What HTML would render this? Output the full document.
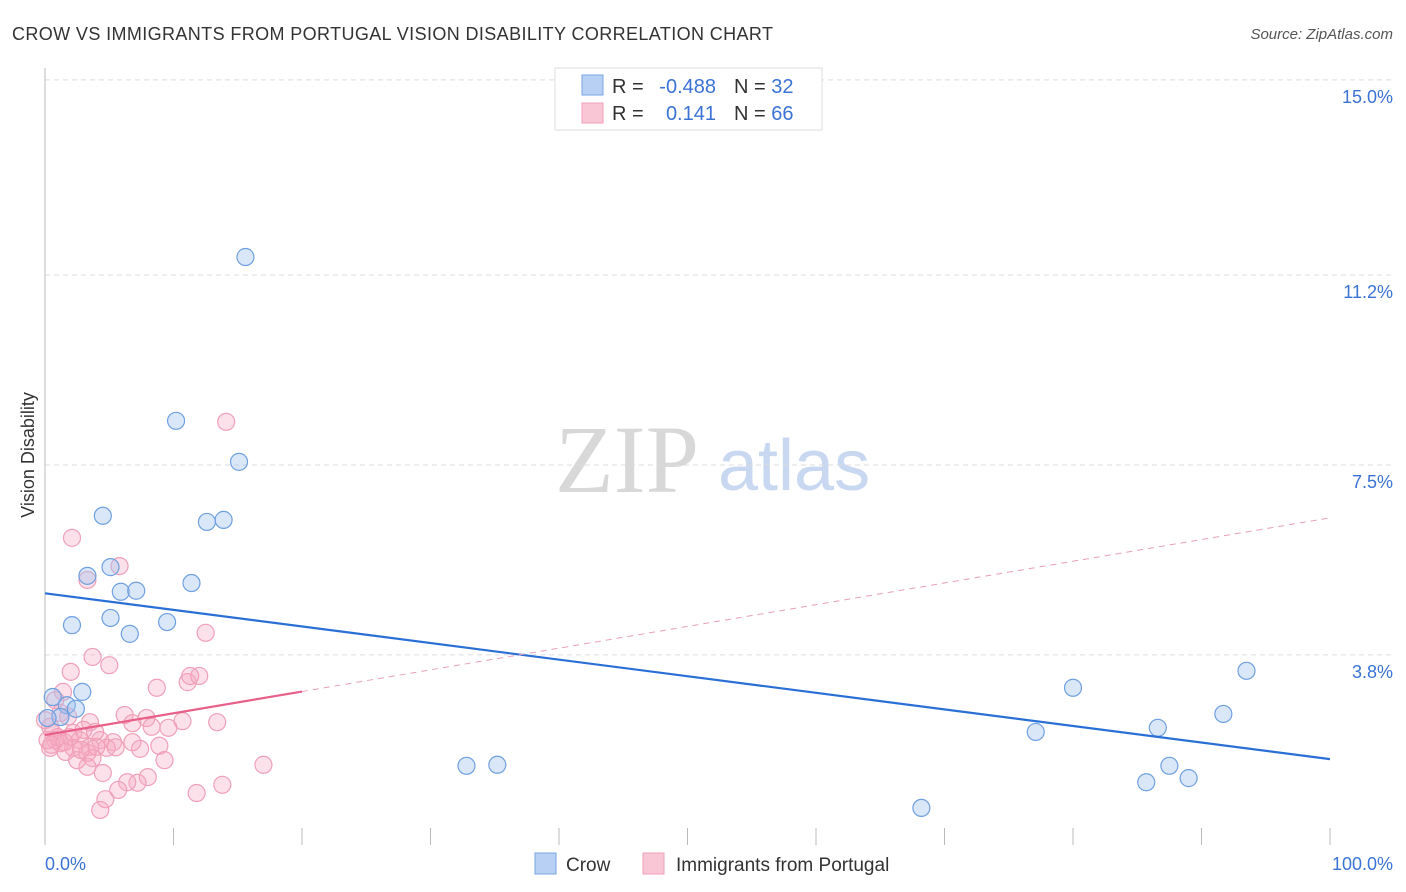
<!DOCTYPE html>
<html><head><meta charset="utf-8"><style>
body{margin:0;background:#fff;font-family:"Liberation Sans",sans-serif;}
svg{display:block}
</style></head><body>
<svg id="chart" width="1406" height="892">
<text x="12" y="40" font-size="18" fill="#333" textLength="761">CROW VS IMMIGRANTS FROM PORTUGAL VISION DISABILITY CORRELATION CHART</text>
<text x="1393" y="39" font-size="15" fill="#555" font-style="italic" text-anchor="end">Source: ZipAtlas.com</text>
<text transform="translate(34,455) rotate(-90)" font-size="18" fill="#333" text-anchor="middle">Vision Disability</text>
<g>
<text x="555" y="492" font-family="Liberation Serif,serif" font-size="96" fill="#d8d8d8">ZIP</text>
<text x="718" y="490" font-size="72" fill="#c8d8f0">atlas</text>
</g>
<g id="grid"></g>
<line x1="45" y1="68" x2="45" y2="845" stroke="#bbb"/>
<g id="xticks"></g>
<g id="marks"></g>
<g id="lines"></g>
<text x="45" y="870" font-size="18" fill="#3b73d4">0.0%</text>
<text x="1393" y="870" font-size="18" fill="#3b73d4" text-anchor="end">100.0%</text>
<g>
<rect x="555" y="68" width="267" height="62" fill="#fff" stroke="#ddd"/>
<rect x="582" y="75" width="21" height="20" fill="#b8d0f4" stroke="#7aa6e4"/>
<rect x="582" y="103" width="21" height="20" fill="#f9c6d6" stroke="#f0a0b8"/>
<text x="612" y="93" font-size="20" fill="#333">R = </text>
<text x="716" y="93" font-size="20" fill="#3b73d4" text-anchor="end">-0.488</text>
<text x="734" y="93" font-size="20" fill="#333">N = <tspan fill="#3b73d4">32</tspan></text>
<text x="612" y="120" font-size="20" fill="#333">R = </text>
<text x="716" y="120" font-size="20" fill="#3b73d4" text-anchor="end">0.141</text>
<text x="734" y="120" font-size="20" fill="#333">N = <tspan fill="#3b73d4">66</tspan></text>
</g>
<g>
<rect x="535" y="853" width="21" height="21" fill="#b8d0f4" stroke="#7aa6e4"/>
<text x="566" y="871" font-size="19" fill="#333">Crow</text>
<rect x="643" y="853" width="21" height="21" fill="#f9c6d6" stroke="#f0a0b8"/>
<text x="676" y="871" font-size="19" fill="#333">Immigrants from Portugal</text>
</g>
</svg>
<script>
const yTicks=[15.0,11.2,7.5,3.8];
const yTickLabels=["15.0%","11.2%","7.5%","3.8%"];
const xTickVals=[0,10,20,30,40,50,60,70,80,90,100];
const crowX=[15.6,10.2,15.1,4.5,12.6,13.9,3.3,5.1,11.4,5.9,7.1,2.1,5.1,9.5,6.6,0.6,2.9,1.7,2.4,1.2,0.2,32.8,35.2,68.2,80.0,77.1,86.6,91.7,93.5,85.7,87.5,89.0];
const crowY=[11.55,8.36,7.56,6.51,6.39,6.43,5.34,5.51,5.20,5.03,5.05,4.38,4.52,4.44,4.21,2.98,3.08,2.82,2.75,2.59,2.57,1.64,1.66,0.82,3.16,2.30,2.38,2.65,3.49,1.32,1.64,1.40];
const portX=[2.1,5.8,3.3,12.5,3.7,5.0,2.0,8.7,11.1,12.0,11.3,1.4,0.8,6.2,7.9,13.4,10.7,6.8,8.3,9.6,3.5,0.4,1.9,2.7,4.3,5.3,1.2,0.4,2.2,3.5,4.8,7.4,8.9,3.3,1.6,2.5,3.7,9.3,17.0,4.5,8.0,7.2,6.4,13.8,11.8,5.7,4.7,4.3,3.3,0.6,0.8,0.2,4.0,2.2,3.0,1.2,0.0,14.1,1.0,1.5,3.9,2.8,0.5,5.5,1.8,6.8];
const portY=[6.08,5.53,5.26,4.23,3.76,3.60,3.47,3.16,3.27,3.39,3.39,3.08,2.92,2.63,2.57,2.49,2.51,2.47,2.40,2.38,2.49,2.40,2.20,2.14,2.14,2.10,2.08,1.99,1.99,2.01,1.99,1.97,2.03,1.89,1.91,1.75,1.79,1.75,1.66,1.50,1.42,1.31,1.32,1.27,1.11,1.17,0.99,0.78,1.62,2.28,2.14,2.14,2.01,2.28,2.34,2.67,2.53,8.34,2.2,2.1,2.3,1.95,2.05,2.0,2.6,2.1];
const crowTrend=[5.0,1.77];
const portTrend=[2.24,6.47];
const portSolidEnd=20;
const NS="http://www.w3.org/2000/svg";
const xs=v=>45+v*12.85;
const ys=v=>850-v*51.34;
function mk(tag,attrs,parent){const e=document.createElementNS(NS,tag);for(const k in attrs)e.setAttribute(k,attrs[k]);document.getElementById(parent).appendChild(e);return e;}
yTicks.forEach((t,i)=>{
  const l=mk('line',{x1:45,x2:1393,y1:ys(t),y2:ys(t),stroke:'#ddd','stroke-dasharray':'5,4'},'grid');
  
  
  const tx=mk('text',{x:1393,y:ys(t)+23,'font-size':18,fill:'#3b73d4','text-anchor':'end'},'grid');
  tx.textContent=yTickLabels[i];
  
  
});
xTickVals.forEach(v=>{
  const l=mk('line',{x1:xs(v),x2:xs(v),y1:828,y2:845,stroke:'#bbb'},'xticks');
  
  
});
portX.forEach((x,i)=>{
  const c=mk('circle',{cx:xs(x),cy:ys(portY[i]),r:8.5,fill:'rgba(245,170,195,0.35)',stroke:'#f0a0b8','stroke-width':1.2},'marks');
  
  
});
crowX.forEach((x,i)=>{
  const c=mk('circle',{cx:xs(x),cy:ys(crowY[i]),r:8.5,fill:'rgba(160,195,240,0.4)',stroke:'#6fa0e0','stroke-width':1.2},'marks');
  
  
});
const pAt=x=>portTrend[0]+(portTrend[1]-portTrend[0])*x/100;
let l1=mk('line',{x1:xs(0),y1:ys(crowTrend[0]),x2:xs(100),y2:ys(crowTrend[1]),stroke:'#2a6fd6','stroke-width':2.2},'lines');


let l2=mk('line',{x1:xs(0),y1:ys(pAt(0)),x2:xs(portSolidEnd),y2:ys(pAt(portSolidEnd)),stroke:'#e8608a','stroke-width':2.2},'lines');


let l3=mk('line',{x1:xs(portSolidEnd),y1:ys(pAt(portSolidEnd)),x2:xs(100),y2:ys(pAt(100)),stroke:'#e8a0b8','stroke-width':1,'stroke-dasharray':'6,5'},'lines');


</script>
</body></html>
